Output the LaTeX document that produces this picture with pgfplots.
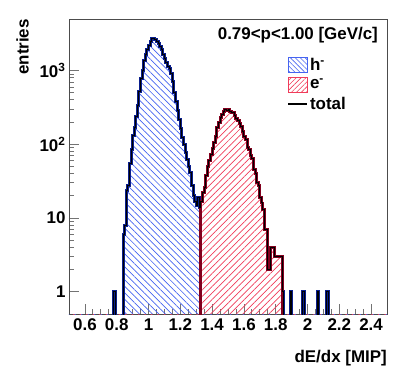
\documentclass[border=0pt]{standalone}
\usepackage{pgfplots}
\pgfplotsset{compat=1.18}
\usepackage{fontspec}
\setmainfont{Liberation Sans}
\usetikzlibrary{patterns.meta}
\definecolor{hfill}{RGB}{70,100,240}
\definecolor{hline}{RGB}{10,30,140}
\definecolor{efill}{RGB}{240,60,90}
\definecolor{eline}{RGB}{130,0,30}
\newcommand{\bigfont}{\fontsize{17}{19}\selectfont\bfseries}

% dE/dx histograms, bin width 0.01, left bin edges
\pgfplotstableread{
x y
0.50 0.1
0.77 0.1
0.78 1
0.79 0.1
0.84 6
0.85 8
0.86 24
0.87 28
0.88 55
0.89 85
0.90 130
0.91 170
0.92 240
0.93 340
0.94 520
0.95 780
0.96 1000
0.97 1350
0.98 1650
0.99 1950
1.00 2200
1.01 2450
1.02 2700
1.03 2750
1.04 2650
1.05 2500
1.06 2350
1.07 2150
1.08 1900
1.09 1650
1.10 1450
1.11 1300
1.12 1150
1.13 1050
1.14 900
1.15 700
1.16 500
1.17 380
1.18 290
1.19 220
1.20 165
1.21 125
1.22 98
1.23 78
1.24 62
1.25 50
1.26 42
1.27 28
1.28 20
1.29 17
1.30 15
1.31 19
1.32 14
1.33 0.1
1.84 1
1.85 0.1
1.89 1
1.90 0.1
1.97 1
1.98 0.1
2.06 1
2.07 0.1
2.12 1
2.13 0.1
2.50 0.1
}\hminus

\pgfplotstableread{
x y
0.50 0.1
1.33 17
1.34 22
1.35 26
1.36 38
1.37 50
1.38 60
1.39 72
1.40 88
1.41 105
1.42 128
1.43 170
1.44 200
1.45 230
1.46 250
1.47 280
1.48 300
1.49 285
1.50 295
1.51 275
1.52 270
1.53 268
1.54 245
1.55 225
1.56 212
1.57 190
1.58 172
1.59 150
1.60 128
1.61 115
1.62 90
1.63 84
1.64 70
1.65 64
1.66 45
1.67 40
1.68 30
1.69 28
1.70 19
1.71 16
1.72 13
1.73 7
1.74 7
1.75 2
1.76 2
1.77 4
1.78 4
1.79 3
1.80 3
1.81 3
1.82 3
1.83 3
1.84 0.1
2.50 0.1
}\eminus

\pgfplotstableread{
x y
0.50 0.1
0.77 0.1
0.78 1
0.79 0.1
0.84 6
0.85 8
0.86 24
0.87 28
0.88 55
0.89 85
0.90 130
0.91 170
0.92 240
0.93 340
0.94 520
0.95 780
0.96 1000
0.97 1350
0.98 1650
0.99 1950
1.00 2200
1.01 2450
1.02 2700
1.03 2750
1.04 2650
1.05 2500
1.06 2350
1.07 2150
1.08 1900
1.09 1650
1.10 1450
1.11 1300
1.12 1150
1.13 1050
1.14 900
1.15 700
1.16 500
1.17 380
1.18 290
1.19 220
1.20 165
1.21 125
1.22 98
1.23 78
1.24 62
1.25 50
1.26 42
1.27 28
1.28 20
1.29 17
1.30 15
1.31 19
1.32 14
1.33 17
1.34 22
1.35 26
1.36 38
1.37 50
1.38 60
1.39 72
1.40 88
1.41 105
1.42 128
1.43 170
1.44 200
1.45 230
1.46 250
1.47 280
1.48 300
1.49 285
1.50 295
1.51 275
1.52 270
1.53 268
1.54 245
1.55 225
1.56 212
1.57 190
1.58 172
1.59 150
1.60 128
1.61 115
1.62 90
1.63 84
1.64 70
1.65 64
1.66 45
1.67 40
1.68 30
1.69 28
1.70 19
1.71 16
1.72 13
1.73 7
1.74 7
1.75 2
1.76 2
1.77 4
1.78 4
1.79 3
1.80 3
1.81 3
1.82 3
1.83 3
1.84 1
1.85 0.1
1.89 1
1.90 0.1
1.97 1
1.98 0.1
2.06 1
2.07 0.1
2.12 1
2.13 0.1
2.50 0.1
}\total

\begin{document}
\begin{tikzpicture}
  \begin{axis}[
      scale only axis, width=318bp, height=295bp,
      ymode=log, log origin=infty,
      xmin=0.5, xmax=2.5, ymin=0.5, ymax=5000,
      xtick={0.6,0.8,...,2.41}, minor x tick num=3,
      ytick={1,10,100,1000}, yticklabels={1,10,10\textsuperscript{2},10\textsuperscript{3}},
      tick pos=left, tick align=inside,
      major tick length=10bp, minor tick length=5bp,
      tick style={black!55, line width=0.8pt},
      axis line style={black!70, line width=0.9pt},
      /pgf/number format/assume math mode=true,
      ticklabel style={font=\bigfont},
      xticklabel style={yshift=-1bp},
      legend style={at={(rel axis cs:0.685,0.875)}, anchor=north west,
        draw=none, fill=none, font=\bigfont, row sep=3bp,
        inner sep=0pt},
      legend cell align=left,
    ]
    % hatched areas
    \addplot[const plot, draw=none,
      pattern={Lines[angle=-45,distance=4.6pt,line width=0.7pt]}, pattern color=hfill,
      legend image code/.code={\draw[pattern={Lines[angle=-45,distance=3.5pt,line width=0.6pt]}, pattern color=hfill, draw=hfill, line width=0.6pt] (0bp,-7.5bp) rectangle (19bp,7.5bp);}]
      table[x=x,y=y] {\hminus} \closedcycle;
    \addlegendentry{h\textsuperscript{-}}
    \addplot[const plot, draw=none,
      pattern={Lines[angle=45,distance=4.6pt,line width=0.7pt]}, pattern color=efill,
      legend image code/.code={\draw[pattern={Lines[angle=45,distance=3.5pt,line width=0.6pt]}, pattern color=efill, draw=efill, line width=0.6pt] (0bp,-7.5bp) rectangle (19bp,7.5bp);}]
      table[x=x,y=y] {\eminus} \closedcycle;
    \addlegendentry{e\textsuperscript{-}}
    % outlines
    \addplot[const plot, draw=hline, line width=3pt, forget plot] table[x=x,y=y] {\hminus};
    \addplot[const plot, draw=eline, line width=3pt, forget plot] table[x=x,y=y] {\eminus};
    \addplot[const plot, draw=black, line width=1pt,
      legend image code/.code={\draw[black, line width=2pt] (0bp,0bp) -- (19bp,0bp);}]
      table[x=x,y=y] {\total};
    \addlegendentry{total}
    \node[anchor=north east, inner sep=0pt, font=\bigfont] at (rel axis cs:0.972,0.972) {0.79<p<1.00 [GeV/c]};
  \end{axis}
  \node[rotate=90, anchor=south east, inner sep=0pt, font=\bigfont] at ([xshift=-40bp]current axis.north west) {entries};
  \node[anchor=north east, inner sep=0pt, font=\bigfont] at ([yshift=-36bp]current axis.south east) {dE/dx [MIP]};
  \pgfresetboundingbox
  \path[use as bounding box] ([xshift=-69bp,yshift=-55bp]current axis.south west) rectangle ([xshift=20bp,yshift=19bp]current axis.north east);
\end{tikzpicture}
\end{document}
